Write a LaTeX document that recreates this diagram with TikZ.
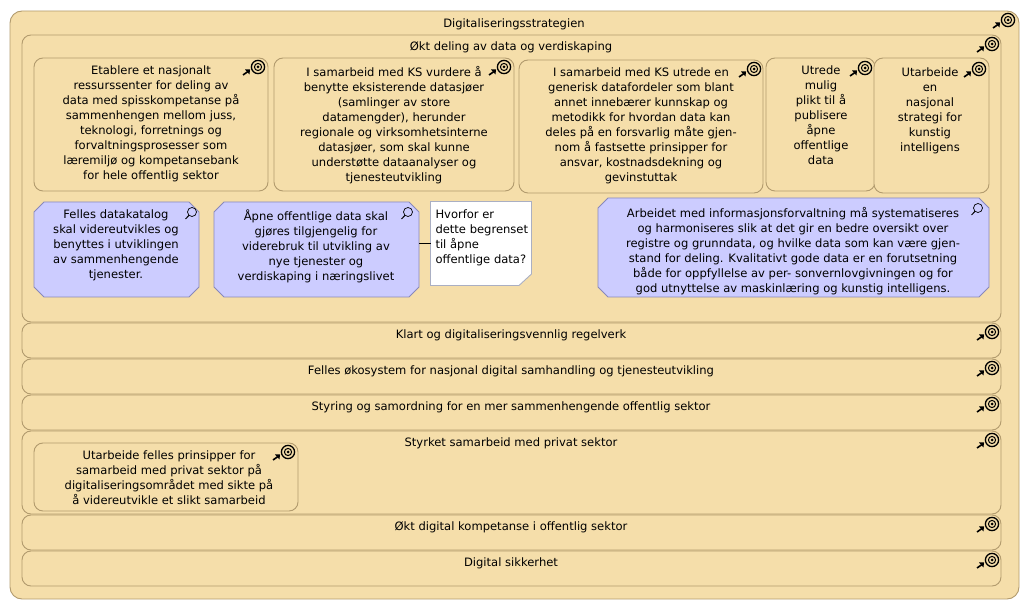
\documentclass[tikz,border=0pt]{standalone}
\usepackage{fontspec}
\setmainfont{DejaVu Sans}
\usetikzlibrary{calc,positioning}

\definecolor{goaltan}{RGB}{245,222,170}
\definecolor{goalline}{RGB}{178,155,110}
\definecolor{courseblue}{RGB}{204,204,255}
\definecolor{courseline}{RGB}{136,136,187}
\definecolor{noteline}{RGB}{170,175,195}

\tikzset{
    goalbox/.style={draw=goalline, fill=goaltan, rounded corners=#1, inner sep=0pt, outer sep=0pt, line width=0.9pt},
    goalbox/.default=9pt,
    coursebox/.style={inner sep=0pt, outer sep=0pt},
    lbl/.style={font=\fontsize{11.55}{15}\selectfont, align=center, anchor=north, inner sep=0pt, outer sep=0pt},
    notelbl/.style={font=\fontsize{11.55}{15}\selectfont, align=left, anchor=north west, inner sep=0pt, outer sep=0pt}
}

% target with a small arrow pointing at it
\newcommand{\goalmark}[2]{
    \begin{scope}[shift={(#1,#2)}]
        \draw[line width=1.3pt] (0,0) circle (6.6);
        \draw[line width=1pt] (0,0) circle (3.6);
        \fill (0,0) circle (1.5);
        \draw[line width=1.6pt] (-15,8) -- (-10,4.5);
        \fill (-8,2.5) -- (-13,2.5) -- (-8.5,7.5) -- cycle;
    \end{scope}
}
% magnifying glass
\newcommand{\lensmark}[2]{
    \begin{scope}[shift={(#1,#2)}]
        \draw[line width=0.7pt] (0,-1) circle (4.5);
        \draw[line width=1pt] (-3,2.4) -- (-6.5,6);
    \end{scope}
}
% blue outline with cut corners round a named node
\newcommand{\chamfer}[1]{
    \filldraw[draw=courseline, fill=courseblue, line width=0.9pt]
        ($(#1.north west)+(10,0)$) -- ($(#1.north east)+(-10,0)$) -- ($(#1.north east)+(0,10)$)
        -- ($(#1.south east)+(0,-10)$) -- ($(#1.south east)+(-10,0)$) -- ($(#1.south west)+(10,0)$)
        -- ($(#1.south west)+(0,-10)$) -- ($(#1.north west)+(0,10)$) -- cycle;
}

\begin{document}
\begin{tikzpicture}[x=1pt, y=-1pt]
    \useasboundingbox (0,0) rectangle (1029,609);

    % Outer frame
    \node[goalbox=12pt, minimum width=1009pt, minimum height=588pt] (strategy) at (514.5,305) {};

    % Main groups
    \node[goalbox, minimum width=979pt, minimum height=287pt] (sharing) at (511.5,178.5) {};
    \node[goalbox, minimum width=979pt, minimum height=35pt] (rules) at (511.5,340.5) {};
    \node[goalbox, minimum width=979pt, minimum height=35pt] (ecosystem) at (511.5,376.5) {};
    \node[goalbox, minimum width=979pt, minimum height=35pt] (steering) at (511.5,412.5) {};
    \node[goalbox, minimum width=979pt, minimum height=83pt] (private) at (511.5,472.5) {};
    \node[goalbox, minimum width=979pt, minimum height=35pt] (skills) at (511.5,532.5) {};
    \node[goalbox, minimum width=979pt, minimum height=35pt] (security) at (511.5,568.5) {};

    % Group titles
    \node[lbl] (strategyText) at (514,19) {Digitaliseringsstrategien};
    \node[lbl] (sharingText) at (511,42) {Økt deling av data og verdiskaping};
    \node[lbl] (rulesText) at (511,330) {Klart og digitaliseringsvennlig regelverk};
    \node[lbl] (ecosystemText) at (511,366) {Felles økosystem for nasjonal digital samhandling og tjenesteutvikling};
    \node[lbl] (steeringText) at (511,402) {Styring og samordning for en mer sammenhengende offentlig sektor};
    \node[lbl] (privateText) at (511,438) {Styrket samarbeid med privat sektor};
    \node[lbl] (skillsText) at (511,522) {Økt digital kompetanse i offentlig sektor};
    \node[lbl] (securityText) at (511,558) {Digital sikkerhet};

    % Goals in the sharing group
    \node[goalbox, minimum width=234pt, minimum height=133pt] (centres) at (151,124.5) {};
    \node[goalbox, minimum width=240pt, minimum height=133pt] (lakes) at (394,124.5) {};
    \node[goalbox, minimum width=244pt, minimum height=133pt] (benefits) at (641,126.5) {};
    \node[goalbox, minimum width=109pt, minimum height=133pt] (duty) at (820.5,124.5) {};
    \node[goalbox, minimum width=115pt, minimum height=135pt] (ai) at (931.5,125.5) {};

    \node[lbl] (centresText) at (151,66) {Etablere et nasjonalt\\ressurssenter for deling av\\data med spisskompetanse på\\sammenhengen mellom juss,\\teknologi, forretnings og\\forvaltningsprosesser som\\læremiljø og kompetansebank\\for hele offentlig sektor};
    \node[lbl] (lakesText) at (394,66) {I samarbeid med KS vurdere å\\benytte eksisterende datasjøer\\(samlinger av store\\datamengder), herunder\\regionale og virksomhetsinterne\\datasjøer, som skal kunne\\understøtte dataanalyser og\\tjenesteutvikling};
    \node[lbl] (benefitsText) at (641,68) {I samarbeid med KS utrede en\\generisk datafordeler som blant\\annet innebærer kunnskap og\\metodikk for hvordan data kan\\deles på en forsvarlig måte gjen-\\nom å fastsette prinsipper for\\ansvar, kostnadsdekning og\\gevinstuttak};
    \node[lbl] (dutyText) at (821,66) {Utrede\\mulig\\plikt til å\\publisere\\åpne\\offentlige\\data};
    \node[lbl] (aiText) at (930,68) {Utarbeide\\en\\nasjonal\\strategi for\\kunstig\\intelligens};

    % Courses of action
    \node[coursebox, minimum width=165pt, minimum height=95pt] (catalogue) at (116.5,249.5) {};
    \node[coursebox, minimum width=205pt, minimum height=95pt] (opendata) at (316.5,249.5) {};
    \node[coursebox, minimum width=391pt, minimum height=99pt] (infomgmt) at (793.5,247.5) {};
    \chamfer{catalogue}
    \chamfer{opendata}
    \chamfer{infomgmt}

    \node[lbl] (catalogueText) at (116,210) {Felles datakatalog\\skal videreutvikles og\\benyttes i utviklingen\\av sammenhengende\\tjenester.};
    \node[lbl] (opendataText) at (316,210) {Åpne offentlige data skal\\gjøres tilgjengelig for\\viderebruk til utvikling av\\nye tjenester og\\verdiskaping i næringslivet};
    \node[lbl] (infomgmtText) at (793,207) {Arbeidet med informasjonsforvaltning må systematiseres\\og harmoniseres slik at det gir en bedre oversikt over\\registre og grunndata, og hvilke data som kan være gjen-\\stand for deling. Kvalitativt gode data er en forutsetning\\både for oppfyllelse av per- sonvernlovgivningen og for\\god utnyttelse av maskinlæring og kunstig intelligens.};

    % Note with cut corner
    \filldraw[draw=noteline, fill=white, line width=0.9pt] (430.5,201.5) -- (531.5,201.5) -- (531.5,274) -- (519,285.5) -- (430.5,285.5) -- cycle;
    \node[minimum width=101pt, minimum height=84pt, inner sep=0pt, outer sep=0pt] (note) at (481,243.5) {};
    \node[notelbl] (noteText) at (435.5,210) {Hvorfor er\\dette begrenset\\til åpne\\offentlige data?};
    \draw[line width=0.8pt] (opendata.east |- note.west) -- (note.west);

    % Goal in the private group
    \node[goalbox, minimum width=264pt, minimum height=68pt] (principles) at (166,477) {};
    \node[lbl] (principlesText) at (169,451) {Utarbeide felles prinsipper for\\samarbeid med privat sektor på\\digitaliseringsområdet med sikte på\\å videreutvikle et slikt samarbeid};

    % Marks
    \goalmark{1008}{20}
    \goalmark{992}{44}
    \goalmark{992}{332}
    \goalmark{992}{368}
    \goalmark{992}{404}
    \goalmark{992}{440}
    \goalmark{992}{524}
    \goalmark{992}{560}
    \goalmark{258}{67}
    \goalmark{504}{67}
    \goalmark{754}{69}
    \goalmark{865}{68}
    \goalmark{979}{69}
    \goalmark{288}{452}
    \lensmark{192}{213}
    \lensmark{408}{213}
    \lensmark{978}{209}
\end{tikzpicture}
\end{document}
